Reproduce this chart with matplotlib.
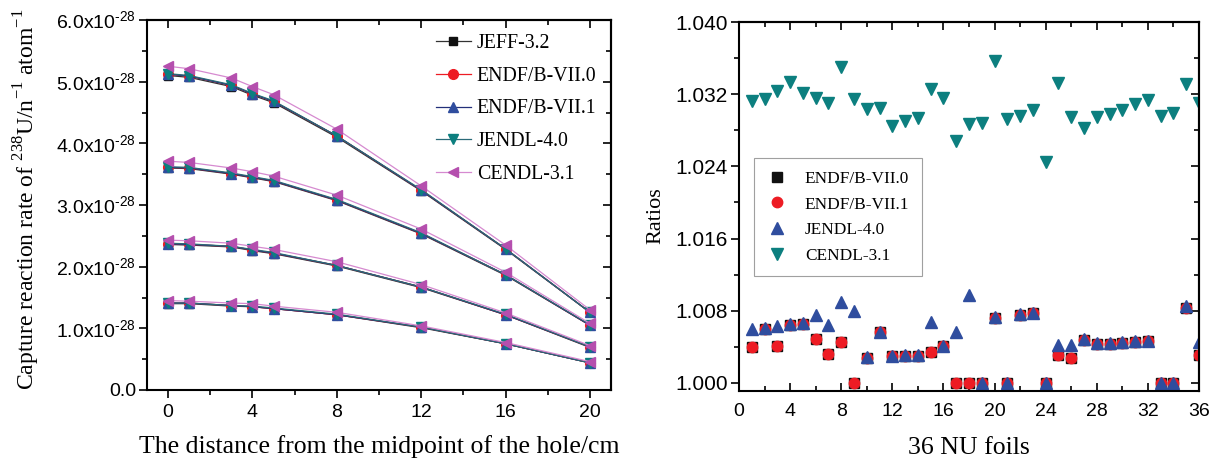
"""Capture reaction rate of 238U along the hole, and library ratios for 36 NU foils."""
import matplotlib
matplotlib.use("Agg")
import matplotlib.pyplot as plt
from matplotlib.ticker import MultipleLocator, FuncFormatter

# ---- left panel: reaction rates (units of 1e-28 per n per atom) ----
distance = [0, 1, 3, 4, 5, 8, 12, 16, 20]

jeff_g1 = [5.10, 5.07, 4.92, 4.78, 4.66, 4.10, 3.23, 2.28, 1.26]
jeff_g2 = [3.60, 3.59, 3.50, 3.44, 3.38, 3.07, 2.53, 1.86, 1.05]
jeff_g3 = [2.36, 2.35, 2.32, 2.26, 2.21, 2.01, 1.66, 1.22, 0.69]
jeff_g4 = [1.40, 1.40, 1.36, 1.35, 1.32, 1.22, 1.01, 0.75, 0.44]

endf0_g1 = [5.12, 5.09, 4.94, 4.80, 4.68, 4.12, 3.24, 2.29, 1.26]
endf0_g2 = [3.61, 3.60, 3.51, 3.45, 3.39, 3.08, 2.54, 1.87, 1.05]
endf0_g3 = [2.37, 2.36, 2.33, 2.27, 2.22, 2.02, 1.67, 1.22, 0.70]
endf0_g4 = [1.41, 1.41, 1.37, 1.35, 1.32, 1.22, 1.02, 0.75, 0.44]

endf1_g1 = [5.12, 5.09, 4.94, 4.80, 4.68, 4.12, 3.24, 2.29, 1.26]
endf1_g2 = [3.61, 3.60, 3.51, 3.45, 3.39, 3.08, 2.54, 1.87, 1.05]
endf1_g3 = [2.37, 2.36, 2.33, 2.27, 2.22, 2.02, 1.67, 1.22, 0.70]
endf1_g4 = [1.41, 1.41, 1.37, 1.35, 1.32, 1.22, 1.02, 0.75, 0.44]

jendl_g1 = [5.13, 5.10, 4.95, 4.81, 4.69, 4.12, 3.25, 2.29, 1.26]
jendl_g2 = [3.62, 3.61, 3.52, 3.46, 3.40, 3.09, 2.55, 1.87, 1.06]
jendl_g3 = [2.38, 2.37, 2.33, 2.28, 2.23, 2.02, 1.67, 1.23, 0.70]
jendl_g4 = [1.41, 1.41, 1.37, 1.36, 1.33, 1.23, 1.02, 0.75, 0.44]

cendl_g1 = [5.25, 5.21, 5.06, 4.92, 4.79, 4.23, 3.31, 2.35, 1.30]
cendl_g2 = [3.71, 3.69, 3.60, 3.54, 3.47, 3.16, 2.61, 1.91, 1.08]
cendl_g3 = [2.43, 2.42, 2.38, 2.33, 2.28, 2.08, 1.71, 1.25, 0.72]
cendl_g4 = [1.45, 1.44, 1.41, 1.40, 1.36, 1.26, 1.04, 0.77, 0.46]

# ---- right panel: ratios for 36 foils ----
foils = list(range(1, 37))
ratio_endf0 = [1.0040, 1.0060, 1.0041, 1.0064, 1.0065, 1.0049, 1.0032, 1.0045, 1.0000,
               1.0028, 1.0056, 1.0030, 1.0030, 1.0030, 1.0034, 1.0041, 1.0000, 1.0000,
               1.0000, 1.0072, 1.0000, 1.0075, 1.0077, 1.0000, 1.0031, 1.0028, 1.0048,
               1.0043, 1.0043, 1.0044, 1.0045, 1.0046, 1.0000, 1.0000, 1.0083, 1.0031]
ratio_endf1 = [1.0040, 1.0060, 1.0041, 1.0064, 1.0065, 1.0049, 1.0032, 1.0045, 1.0000,
               1.0028, 1.0056, 1.0030, 1.0030, 1.0030, 1.0034, 1.0041, 1.0000, 1.0000,
               1.0000, 1.0072, 1.0000, 1.0075, 1.0077, 1.0000, 1.0031, 1.0028, 1.0048,
               1.0043, 1.0043, 1.0044, 1.0045, 1.0046, 1.0000, 1.0000, 1.0083, 1.0031]
ratio_jendl = [1.0060, 1.0061, 1.0063, 1.0065, 1.0066, 1.0075, 1.0064, 1.0090, 1.0080,
               1.0029, 1.0057, 1.0030, 1.0031, 1.0031, 1.0068, 1.0041, 1.0056, 1.0098,
               1.0000, 1.0073, 1.0000, 1.0076, 1.0077, 1.0000, 1.0042, 1.0042, 1.0049,
               1.0044, 1.0044, 1.0045, 1.0046, 1.0047, 1.0000, 1.0000, 1.0085, 1.0045]
ratio_cendl = [1.0313, 1.0315, 1.0324, 1.0334, 1.0321, 1.0316, 1.0310, 1.0350, 1.0315,
               1.0304, 1.0305, 1.0285, 1.0290, 1.0294, 1.0326, 1.0316, 1.0268, 1.0287,
               1.0288, 1.0357, 1.0292, 1.0296, 1.0303, 1.0245, 1.0332, 1.0295, 1.0282,
               1.0295, 1.0298, 1.0302, 1.0309, 1.0314, 1.0296, 1.0299, 1.0331, 1.0310]

BLACK = "#111111"
RED = "#ed1c24"
BLUE = "#2f4d9e"
TEAL = "#0c7f7f"
MAGENTA = "#b54fae"
MAGENTA_LINE = "#d68ad0"

SERIF = "Liberation Serif"
SANS = "Liberation Sans"

plt.rcParams["font.family"] = SANS
plt.rcParams["mathtext.fontset"] = "custom"
plt.rcParams["mathtext.rm"] = SERIF
plt.rcParams["mathtext.sf"] = SANS
plt.rcParams["axes.linewidth"] = 1.5


def mirror_ticks(ax, xmaj, xmin, ymaj, ymin):
    """Inward ticks on the top and right spines, no labels (Origin style)."""
    top = ax.secondary_xaxis("top")
    top.xaxis.set_major_locator(MultipleLocator(xmaj))
    top.xaxis.set_minor_locator(MultipleLocator(xmin))
    top.tick_params(which="both", direction="in", labeltop=False, width=1.2)
    top.tick_params(which="major", length=6)
    top.tick_params(which="minor", length=3.5)
    right = ax.secondary_yaxis("right")
    right.yaxis.set_major_locator(MultipleLocator(ymaj))
    right.yaxis.set_minor_locator(MultipleLocator(ymin))
    right.tick_params(which="both", direction="in", labelright=False, width=1.2)
    right.tick_params(which="major", length=6)
    right.tick_params(which="minor", length=3.5)


def sci_label(v, pos):
    # hyphen (U+2010) keeps the exponent narrow like the original
    if abs(v) < 1e-9:
        return "0.0"
    return f"{v:.1f}x10$^{{\\mathsf{{\u201028}}}}$"


fig = plt.figure(figsize=(12.17, 4.66), dpi=100)
ax1 = fig.add_axes([147 / 1217, 1 - 390 / 466, 464 / 1217, 370 / 466])
ax2 = fig.add_axes([739 / 1217, 1 - 391 / 466, 460 / 1217, 369 / 466])

# ---- left panel ----
libs = [
    ("JEFF-3.2", [jeff_g1, jeff_g2, jeff_g3, jeff_g4], "s", BLACK, "#333333"),
    ("ENDF/B-VII.0", [endf0_g1, endf0_g2, endf0_g3, endf0_g4], "o", RED, RED),
    ("ENDF/B-VII.1", [endf1_g1, endf1_g2, endf1_g3, endf1_g4], "^", BLUE, "#23307a"),
    ("JENDL-4.0", [jendl_g1, jendl_g2, jendl_g3, jendl_g4], "v", TEAL, "#2a6a78"),
    ("CENDL-3.1", [cendl_g1, cendl_g2, cendl_g3, cendl_g4], "<", MAGENTA, MAGENTA_LINE),
]
for name, groups, mk, mc, lc in libs:
    for i, g in enumerate(groups):
        ax1.plot(distance, g, color=lc, lw=0.9, marker=mk, ms=7 if mk != "s" else 6,
                 mfc=mc, mec=mc, label=name if i == 0 else None)

ax1.set_xlim(-1, 21)
ax1.set_ylim(0, 6)
ax1.xaxis.set_major_locator(MultipleLocator(4))
ax1.xaxis.set_minor_locator(MultipleLocator(2))
ax1.yaxis.set_major_locator(MultipleLocator(1))
ax1.yaxis.set_minor_locator(MultipleLocator(0.5))
ax1.yaxis.set_major_formatter(FuncFormatter(sci_label))
ax1.tick_params(which="both", width=1.2)
ax1.tick_params(which="major", length=6)
ax1.tick_params(which="minor", length=3.5)
ax1.tick_params(axis="x", which="both", direction="out", pad=4, labelsize=14)
ax1.tick_params(axis="y", which="both", direction="out", pad=2, labelsize=14)
mirror_ticks(ax1, 4, 2, 1, 0.5)

ax1.set_xlabel("The distance from the midpoint of the hole/cm", fontfamily=SERIF,
               fontsize=18.5, labelpad=10)
ax1.set_ylabel("Capture reaction rate of $^{238}$U/n$^{-1}$ atom$^{-1}$",
               fontfamily=SERIF, fontsize=17)
ax1.yaxis.set_label_coords(-0.226, 0.515)
ax1.legend(loc="upper left", bbox_to_anchor=(0.623, 0.962), frameon=False,
           prop={"family": SERIF, "size": 14.3}, borderpad=0, borderaxespad=0,
           handlelength=1.75, handletextpad=0.3, labelspacing=0.69)

# ---- right panel ----
ax2.plot(foils, ratio_endf0, ls="none", marker="s", ms=6.5, color=BLACK, label="ENDF/B-VII.0")
ax2.plot(foils, ratio_endf1, ls="none", marker="o", ms=7.5, color=RED, label="ENDF/B-VII.1")
ax2.plot(foils, ratio_jendl, ls="none", marker="^", ms=8, color=BLUE, label="JENDL-4.0")
ax2.plot(foils, ratio_cendl, ls="none", marker="v", ms=8, color=TEAL, label="CENDL-3.1")

ax2.set_xlim(0, 36)
ax2.set_ylim(0.99911, 1.040)
ax2.xaxis.set_major_locator(MultipleLocator(4))
ax2.xaxis.set_minor_locator(MultipleLocator(2))
ax2.yaxis.set_major_locator(MultipleLocator(0.008))
ax2.yaxis.set_minor_locator(MultipleLocator(0.004))
ax2.yaxis.set_major_formatter(FuncFormatter(lambda v, p: f"{v:.3f}"))
ax2.tick_params(which="both", width=1.2)
ax2.tick_params(which="major", length=6)
ax2.tick_params(which="minor", length=3.5)
ax2.tick_params(axis="x", which="both", direction="in", pad=9, labelsize=14)
ax2.tick_params(axis="y", which="both", direction="out", pad=2, labelsize=15)
mirror_ticks(ax2, 4, 2, 0.008, 0.004)

ax2.set_xlabel("36 NU foils", fontfamily=SERIF, fontsize=18.5, labelpad=12)
ax2.set_ylabel("Ratios", fontfamily=SERIF, fontsize=16)
ax2.yaxis.set_label_coords(-0.161, 0.474)
leg = ax2.legend(loc="upper left", bbox_to_anchor=(0.0326, 0.6314), frameon=True,
                 fancybox=False, prop={"family": SERIF, "size": 12.4}, borderaxespad=0,
                 handlelength=1.2, handletextpad=1.0, labelspacing=0.55, borderpad=0.75)
leg.get_frame().set_edgecolor("#888888")
leg.get_frame().set_linewidth(0.8)

plt.savefig("out.png", dpi=100)
plt.close(fig)
